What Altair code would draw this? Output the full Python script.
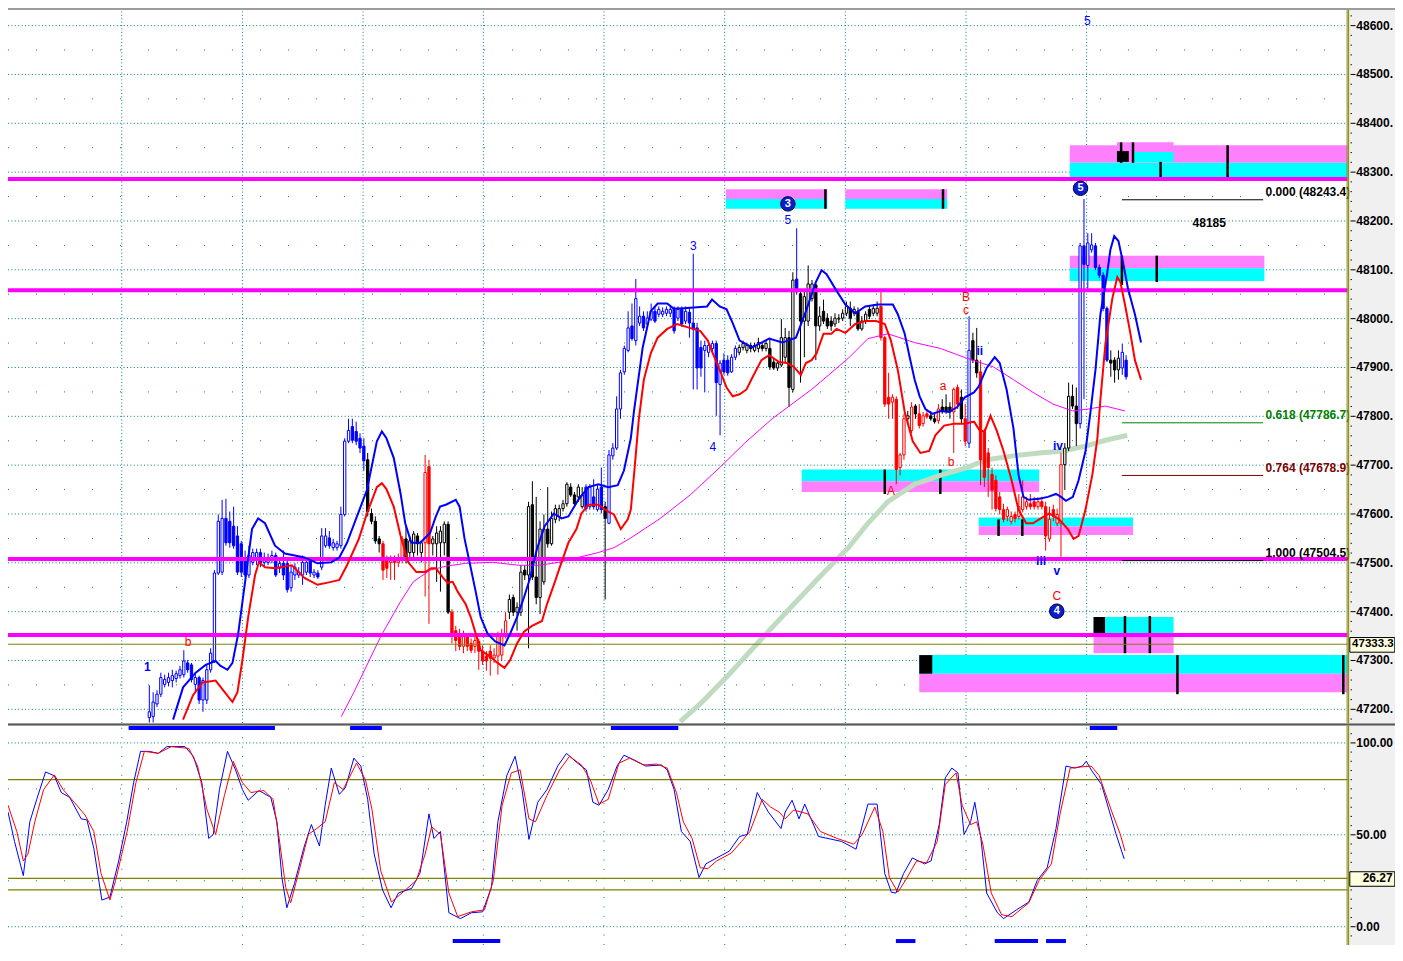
import altair as alt
import pandas as pd

# ----------------------------------------------------------------- candles
candle_open = [
    47183, 47185, 47211, 47231, 47251, 47255, 47259, 47263, 47269, 47271,
    47295, 47291, 47251, 47265, 47219, 47219, 47281, 47299, 47479, 47481,
    47591, 47585, 47575, 47555, 47539, 47511, 47475, 47501, 47505, 47521,
    47501, 47501, 47509, 47515, 47489, 47499, 47499, 47449, 47475, 47475,
    47475, 47481, 47505, 47475, 47479, 47491, 47535, 47551, 47531, 47531,
    47535, 47599, 47749, 47779, 47769, 47755, 47739, 47711, 47601, 47585,
    47549, 47539, 47505, 47501, 47509, 47501, 47505, 47549, 47521, 47521,
    47555, 47521, 47541, 47697, 47539, 47539, 47541, 47541, 47579, 47399,
    47361, 47355, 47329, 47349, 47335, 47329, 47339, 47319, 47309, 47319,
    47305, 47309, 47311, 47355, 47399, 47429, 47399, 47399, 47485, 47475,
    47619, 47471, 47429, 47461, 47569, 47539, 47589, 47595, 47611, 47621,
    47655, 47639, 47635, 47615, 47655, 47615, 47635,
    47609, 47655, 47615, 47581, 47719, 47735, 47815, 47891, 47935, 47985,
    47955, 47991, 48005, 47989, 47999, 48015, 48009, 48009, 48011, 48011,
    48019, 48001, 48019, 47995, 48013, 47991, 47981, 47941, 47935, 47931,
    47939, 47949, 47865, 47915, 47915, 47891, 47921, 47931, 47941, 47935,
    47945, 47935, 47939, 47945, 47939, 47939, 47911, 47899, 47905, 47921,
    47961, 47855, 48081, 48051, 47995, 47995, 48041, 48069, 47985, 48015,
    48001, 47995, 47989, 47999, 48001, 48011, 48021, 48011, 48015, 47979,
    47995, 48019, 48011, 48011, 48025, 47961, 47839, 47829, 47835, 47695,
    47721, 47795, 47771, 47821, 47805, 47785, 47805, 47801, 47795, 47791,
    47819, 47819, 47819, 47809, 47859, 47839, 47795, 47745, 47955, 47915,
    47891, 47769, 47725, 47681, 47669, 47635, 47609, 47595, 47585, 47599,
    47595, 47609, 47615, 47621, 47625, 47615, 47625, 47615, 47549, 47609,
    47581, 47581, 47701, 47735, 47841, 47821, 47785, 48149, 48109, 48141,
    48149, 48105, 48089, 48021, 47915, 47915, 47895, 47899, 47915,
]
candle_high = [
    47249, 47235, 47239, 47275, 47271, 47275, 47281, 47279, 47289, 47321,
    47301, 47295, 47275, 47269, 47265, 47291, 47325, 47485, 47599, 47629,
    47631, 47605, 47615, 47575, 47545, 47525, 47535, 47529, 47529, 47529,
    47521, 47519, 47525, 47521, 47511, 47525, 47511, 47495, 47499, 47491,
    47515, 47505, 47511, 47487, 47485, 47571, 47571, 47565, 47549, 47545,
    47615, 47755, 47795, 47795, 47789, 47765, 47755, 47725, 47611, 47595,
    47555, 47545, 47515, 47515, 47515, 47519, 47555, 47575, 47555, 47565,
    47561, 47545, 47721, 47711, 47555, 47575, 47575, 47585, 47585, 47405,
    47371, 47365, 47361, 47355, 47345, 47355, 47345, 47331, 47319, 47331,
    47325, 47359, 47365, 47399, 47435, 47435, 47419, 47495, 47495, 47625,
    47667, 47635, 47585, 47599, 47655, 47605, 47619, 47619, 47629, 47665,
    47663, 47645, 47661, 47655, 47661, 47661, 47671,
    47659, 47695, 47625, 47731, 47745, 47841, 47895, 47945, 48015, 48031,
    48081, 48025, 48015, 48015, 48031, 48025, 48025, 48023, 48025, 48025,
    48025, 48025, 48025, 48025, 48023, 48133, 47991, 47955, 47955, 47955,
    47955, 47955, 47915, 47929, 47925, 47927, 47945, 47947, 47955, 47951,
    47951, 47951, 47961, 47951, 47955, 47961, 47919, 47915, 47999, 47981,
    47975, 48095, 48185, 48059, 48055, 48109, 48079, 48075, 48025, 48039,
    48011, 48005, 48011, 48009, 48019, 48035, 48035, 48025, 48023, 48005,
    48015, 48025, 48029, 48035, 48061, 47965, 47889, 47845, 47841, 47725,
    47805, 47811, 47829, 47825, 47825, 47809, 47811, 47811, 47805, 47825,
    47835, 47845, 47829, 47859, 47865, 47855, 47825, 48005, 47971, 47981,
    47915, 47775, 47735, 47695, 47679, 47645, 47621, 47615, 47605, 47605,
    47641, 47669, 47635, 47641, 47635, 47635, 47635, 47625, 47615, 47619,
    47611, 47725, 47745, 47869, 47865, 47859, 48155, 48245, 48175, 48175,
    48155, 48111, 48095, 48025, 47935, 47921, 47935, 47949, 47925,
]
candle_low = [
    47173, 47173, 47205, 47225, 47245, 47247, 47245, 47255, 47263, 47265,
    47275, 47255, 47235, 47211, 47195, 47211, 47275, 47295, 47475, 47475,
    47535, 47531, 47529, 47475, 47471, 47471, 47469, 47495, 47495, 47491,
    47491, 47495, 47499, 47471, 47479, 47465, 47439, 47441, 47465, 47469,
    47455, 47475, 47471, 47469, 47467, 47485, 47531, 47529, 47525, 47525,
    47529, 47595, 47745, 47745, 47741, 47725, 47689, 47595, 47579, 47539,
    47521, 47465, 47469, 47465, 47465, 47491, 47499, 47499, 47505, 47505,
    47515, 47501, 47431, 47375, 47515, 47461, 47441, 47515, 47395, 47335,
    47319, 47321, 47315, 47319, 47315, 47315, 47281, 47291, 47279, 47269,
    47295, 47271, 47299, 47345, 47385, 47391, 47361, 47391, 47465, 47325,
    47465, 47415, 47395, 47455, 47531, 47535, 47581, 47585, 47605, 47615,
    47635, 47615, 47625, 47611, 47605, 47609, 47609,
    47605, 47601, 47425, 47579, 47711, 47731, 47795, 47885, 47931, 47955,
    47945, 47985, 47975, 47981, 47995, 47991, 48003, 48003, 48005, 48003,
    47969, 47995, 47983, 47989, 47961, 47855, 47855, 47881, 47849, 47921,
    47931, 47801, 47761, 47885, 47883, 47889, 47915, 47925, 47935, 47929,
    47931, 47931, 47931, 47933, 47933, 47895, 47895, 47893, 47901, 47911,
    47819, 47849, 48049, 47869, 47921, 47985, 48035, 47915, 47975, 47989,
    47979, 47975, 47983, 47991, 47995, 48005, 47985, 48005, 47975, 47975,
    47989, 47999, 48005, 48005, 47955, 47819, 47795, 47795, 47661, 47679,
    47711, 47785, 47765, 47795, 47775, 47779, 47795, 47791, 47785, 47785,
    47805, 47805, 47795, 47725, 47815, 47785, 47739, 47735, 47909, 47879,
    47659, 47655, 47635, 47609, 47605, 47599, 47583, 47585, 47579, 47583,
    47589, 47603, 47609, 47609, 47609, 47609, 47609, 47525, 47543, 47585,
    47575, 47505, 47649, 47729, 47815, 47739, 47775, 47835, 48055, 48135,
    48099, 48083, 48015, 47911, 47881, 47869, 47875, 47885, 47875,
]
candle_close = [
    47195, 47215, 47231, 47265, 47261, 47265, 47269, 47273, 47281, 47299,
    47281, 47261, 47265, 47219, 47259, 47281, 47315, 47479, 47585, 47591,
    47541, 47541, 47535, 47481, 47481, 47475, 47515, 47521, 47521, 47499,
    47511, 47511, 47515, 47475, 47499, 47475, 47445, 47481, 47491, 47481,
    47501, 47501, 47479, 47481, 47471, 47555, 47555, 47535, 47541, 47539,
    47599, 47749, 47771, 47751, 47749, 47735, 47709, 47605, 47585, 47545,
    47539, 47485, 47489, 47511, 47501, 47511, 47549, 47505, 47545, 47559,
    47539, 47541, 47685, 47539, 47549, 47561, 47565, 47579, 47399, 47355,
    47341, 47329, 47349, 47329, 47321, 47341, 47319, 47299, 47299, 47305,
    47311, 47349, 47355, 47381, 47425, 47399, 47409, 47481, 47475, 47615,
    47471, 47429, 47569, 47569, 47539, 47591, 47611, 47611, 47621, 47661,
    47639, 47621, 47655, 47639, 47611, 47655, 47615,
    47651, 47609, 47591, 47721, 47735, 47815, 47889, 47939, 47981, 47959,
    48041, 48005, 47981, 48001, 48015, 47995, 48019, 48015, 48019, 48019,
    47975, 48019, 47989, 48015, 47991, 47979, 47899, 47899, 47945, 47945,
    47949, 47869, 47909, 47891, 47889, 47921, 47939, 47941, 47949, 47945,
    47939, 47945, 47951, 47939, 47949, 47901, 47899, 47909, 47961, 47961,
    47859, 48079, 48055, 47995, 48045, 48071, 48071, 47985, 48005, 47995,
    47985, 47985, 48001, 48001, 48011, 48025, 48001, 48019, 47979, 47995,
    48009, 48005, 48021, 48021, 47961, 47825, 47825, 47839, 47691, 47721,
    47795, 47801, 47819, 47805, 47781, 47801, 47799, 47795, 47789, 47815,
    47811, 47811, 47809, 47855, 47825, 47795, 47749, 47935, 47915, 47889,
    47711, 47675, 47695, 47649, 47611, 47609, 47589, 47609, 47595, 47591,
    47615, 47635, 47625, 47615, 47615, 47625, 47615, 47555, 47589, 47595,
    47599, 47701, 47735, 47841, 47821, 47785, 48149, 48111, 48155, 48151,
    48105, 48089, 48021, 47915, 47909, 47895, 47919, 47931, 47881,
]
# candle colour runs: b = blue, k = black, r = red
candle_colour_runs = [
    ("b", 57), ("k", 4), ("r", 6), ("k", 5), ("r", 2), ("k", 5), ("r", 15),
    ("k", 20), ("b", 5), ("k", 1), ("b", 34), ("k", 15), ("b", 1), ("k", 21),
    ("r", 7), ("k", 1), ("r", 1), ("k", 1), ("r", 3), ("k", 2), ("r", 1),
    ("k", 3), ("r", 2), ("k", 1), ("r", 1), ("b", 1), ("k", 2), ("r", 22),
    ("k", 4), ("b", 8), ("k", 3), ("b", 2),
]

# ----------------------------------------------------------- price overlays
upper_band_bar = [
    6.2, 8.8, 12.1, 14.7, 17.3, 18.6, 20.4, 21.7, 23.2, 25.0,
    26.8, 28.4, 30.2, 32.8, 35.4, 40.5, 43.9, 47.5, 49.6, 51.6,
    54.2, 56.8, 59.4, 60.7, 61.9, 63.8, 65.6, 66.8, 68.4, 70.7,
    73.3, 74.8, 75.9, 77.4, 80.0, 81.0, 82.3, 83.6, 85.2, 86.5,
    88.3, 90.3, 92.7, 94.2, 96.0, 97.8, 99.4, 101.2, 103.2, 105.6,
    107.6, 109.4, 112.0, 114.6, 117.2, 119.8, 122.3, 123.9, 125.7, 126.5,
    128.8, 130.9, 132.7, 135.2, 136.8, 138.6, 145.6, 146.9, 148.9, 150.7,
    152.3, 154.1, 157.4, 161.8, 165.2, 168.8, 171.4, 174.0, 175.5, 176.8,
    179.1, 181.7, 184.3, 186.9, 190.2, 194.1, 195.4, 197.2, 198.5, 199.8,
    201.1, 202.6, 204.4, 206.5, 208.8, 210.9, 212.9, 215.3, 216.5, 218.6,
    220.7, 222.0, 223.8, 225.6, 226.9, 228.2, 229.5, 232.3, 234.6, 236.7,
    238.0, 239.3, 241.1, 242.6, 244.4, 245.7, 247.0, 248.3, 250.1, 250.9,
    251.9, 253.0, 254.2, 255.5, 257.3, 258.9,
]
upper_band_price = [
    47179, 47245, 47275, 47291, 47299, 47289, 47281, 47295, 47355, 47461,
    47569, 47591, 47581, 47535, 47519, 47511, 47499, 47501, 47511, 47541,
    47595, 47649, 47749, 47769, 47755, 47715, 47641, 47581, 47541, 47541,
    47561, 47595, 47615, 47619, 47629, 47615, 47549, 47501, 47441, 47389,
    47355, 47339, 47331, 47355, 47389, 47429, 47469, 47529, 47575, 47601,
    47591, 47595, 47629, 47655, 47661, 47655, 47659, 47689, 47755, 47809,
    47941, 48015, 48031, 48031, 48021, 48021, 48025, 48039, 48025, 48019,
    47991, 47955, 47941, 47959, 47951, 47961, 48015, 48075, 48099, 48091,
    48061, 48029, 48011, 48025, 48029, 48029, 48009, 47969, 47921, 47875,
    47841, 47815, 47805, 47811, 47809, 47819, 47839, 47849, 47861, 47899,
    47921, 47909, 47855, 47775, 47681, 47635, 47629, 47631, 47635, 47641,
    47635, 47627, 47635, 47669, 47729, 47809, 47895, 48009, 48095, 48141,
    48169, 48159, 48115, 48061, 48009, 47951,
]
lower_band_bar = [
    8.8, 11.4, 13.9, 17.3, 19.1, 21.7, 23.0, 24.3, 25.8, 27.6,
    28.6, 30.2, 32.8, 37.2, 40.5, 43.9, 47.5, 49.6, 51.6, 54.7,
    56.8, 59.4, 60.7, 61.9, 63.8, 65.6, 67.6, 69.7, 72.0, 73.6,
    74.8, 76.7, 77.9, 79.2, 80.5, 82.6, 83.9, 85.2, 86.5, 88.8,
    90.9, 92.7, 94.2, 96.0, 97.8, 99.9, 102.5, 103.8, 105.6, 107.6,
    109.4, 111.5, 112.8, 114.6, 117.2, 119.8, 121.3, 123.1, 124.9, 125.7,
    126.7, 127.8, 129.1, 130.9, 132.7, 135.2, 137.8, 141.9, 143.8, 145.8,
    147.1, 148.9, 150.7, 152.3, 154.1, 155.9, 157.4, 159.8, 161.8, 164.4,
    166.5, 168.3, 170.1, 171.4, 172.9, 174.2, 176.0, 178.1, 179.4, 181.7,
    184.3, 186.9, 189.7, 192.0, 193.6, 195.4, 197.2, 199.3, 201.3, 203.6,
    205.2, 207.5, 210.1, 212.7, 215.3, 216.8, 218.1, 219.6, 221.2, 223.0,
    225.1, 226.9, 228.9, 230.7, 232.3, 234.9, 237.5, 239.8, 241.3, 242.6,
    244.4, 246.2, 247.5, 248.3, 249.6, 251.4, 252.7, 253.5, 254.7, 256.0,
    257.3, 258.9,
]
lower_band_price = [
    47179, 47229, 47255, 47259, 47241, 47215, 47235, 47301, 47389, 47475,
    47501, 47491, 47489, 47495, 47469, 47455, 47461, 47465, 47495, 47549,
    47601, 47655, 47663, 47651, 47615, 47555, 47501, 47481, 47481, 47489,
    47489, 47469, 47459, 47461, 47441, 47415, 47389, 47355, 47321, 47309,
    47295, 47285, 47301, 47335, 47359, 47371, 47381, 47415, 47455, 47501,
    47541, 47569, 47601, 47619, 47619, 47605, 47599, 47569, 47589, 47609,
    47695, 47795, 47875, 47929, 47961, 47979, 47989, 47979, 47975, 47955,
    47929, 47895, 47859, 47841, 47845, 47855, 47879, 47915, 47925, 47911,
    47909, 47901, 47885, 47909, 47915, 47929, 47969, 47969, 47979, 47971,
    47989, 47995, 47995, 47989, 47955, 47895, 47809, 47749, 47725, 47729,
    47761, 47781, 47785, 47785, 47789, 47771, 47769, 47801, 47771, 47729,
    47669, 47609, 47581, 47581, 47589, 47601, 47589, 47569, 47549, 47555,
    47609, 47681, 47755, 47835, 47949, 48041, 48085, 48075, 48029, 47975,
    47915, 47875,
]
fast_ma_bar = [
    50.1, 53.4, 60.4, 65.6, 68.9, 73.3, 77.4, 82.6, 89.6, 96.5,
    101.7, 106.9, 112.0, 117.2, 121.3, 125.7, 133.4, 141.2, 148.9, 155.4,
    162.6, 172.9, 182.5, 187.6, 192.8, 199.8, 206.5, 213.4, 220.4, 225.6,
    230.7, 235.9, 241.1, 245.2, 249.6, 254.7,
]
fast_ma_price = [
    47185, 47235, 47349, 47421, 47461, 47485, 47493, 47499, 47501, 47495,
    47495, 47501, 47511, 47521, 47531, 47551, 47591, 47639, 47695, 47745,
    47795, 47855, 47919, 47959, 47969, 47951, 47939, 47919, 47901, 47875,
    47849, 47825, 47811, 47815, 47821, 47811,
]
slow_ma_bar = [138.6, 143.8, 151.5, 159.2, 167.0, 174.7, 182.5, 187.6, 192.8, 199.8,
               206.5, 213.4, 218.6, 225.6, 232.3, 238.5, 244.4, 249.6, 255.3]
slow_ma_price = [47175, 47211, 47273, 47339, 47405, 47469, 47531, 47581, 47625, 47661,
                 47679, 47695, 47711, 47719, 47725, 47729, 47739, 47751, 47761]

# horizontal support / resistance lines and the last price
level_prices = [48286, 48058, 47508, 47352]
last_price = 47333.3

# Fibonacci retracement
fib_ratio = ["0.000", "0.618", "0.764", "1.000"]
fib_price = [48243.4, 47786.7, 47678.9, 47504.5]
fib_colour = ["#000000", "#008000", "#800000", "#000000"]
fib_start, fib_end, fib_text_bar = 253.9, 290.8, 291.4
note_text, note_bar, note_price = "48185", 276.7, 48195

# supply / demand zones
zone_x0 = [240.3, 240.3, 252.6, 256.8, 150.5, 150.5, 181.7, 181.7, 240.3, 240.3,
           170.3, 170.3, 216.5, 216.5, 246.5, 246.5, 201.0, 201.0]
zone_x1 = [312.8, 312.8, 267.4, 267.4, 177.0, 177.0, 208.3, 208.3, 291.1, 291.1,
           232.3, 232.3, 256.8, 256.8, 267.4, 267.4, 312.8, 312.8]
zone_lo = [48319, 48289, 48341, 48321, 48245, 48225, 48245, 48225, 48103, 48077,
           47667, 47645, 47575, 47557, 47353, 47315, 47273, 47235]
zone_hi = [48355, 48319, 48361, 48341, 48265, 48245, 48265, 48245, 48129, 48103,
           47691, 47667, 47593, 47575, 47389, 47353, 47311, 47273]
zone_kind = ["pink", "cyan", "pink", "cyan", "pink", "cyan", "pink", "cyan", "pink", "cyan",
             "cyan", "pink", "cyan", "pink", "cyan", "pink", "cyan", "pink"]
block_x0 = [252.6, 246.5, 201.0]
block_x1 = [255.7, 249.5, 204.4]
block_lo = [48321, 47353, 47273]
block_hi = [48343, 47389, 47311]
marker_bar = [253.7, 256.8, 264.0, 281.5, 176.5, 207.2, 253.9, 263.0,
              192.0, 206.5, 221.7, 227.9, 254.7, 261.2, 268.4, 311.7]
marker_lo = [48319, 48319, 48289, 48289, 48225, 48225, 48069, 48075,
             47641, 47641, 47555, 47555, 47315, 47315, 47231, 47231]
marker_hi = [48361, 48361, 48321, 48355, 48265, 48265, 48129, 48129,
             47691, 47691, 47589, 47589, 47391, 47391, 47311, 47311]

# wave labels
wave_text = ["1", "b", "3", "4", "5", "5", "B", "c", "a", "b", "A", "ii", "iii", "iv", "v", "C"]
wave_bar = [-0.5, 10.1, 142.0, 147.1, 166.7, 244.9, 213.2, 213.2, 207.2, 209.3, 193.6,
            216.8, 232.8, 237.2, 236.9, 236.9]
wave_price = [47287, 47337, 48149, 47737, 48201, 48609, 48045, 48017, 47863, 47707, 47647,
              47933, 47503, 47739, 47483, 47433]
wave_colour = ["b", "r", "b", "b", "b", "b", "r", "r", "r", "r", "r", "b", "b", "b", "b", "r"]
wave_bold = [True, False, False, False, False, False, False, False, False, False, False,
             True, True, True, True, False]
circle_text = ["3", "5", "4"]
circle_bar = [166.7, 243.1, 236.9]
circle_price = [48235, 48267, 47401]

# ------------------------------------------------------------- stochastics
stoch_k_bar = [
    -36.9, -35.2, -32.9, -31.2, -29.4, -27.1, -24.8, -23.0, -20.8, -17.8,
    -16.3, -14.5, -12.4, -10.3, -8.0, -5.9, -4.1, -2.3, 0.0, 2.3,
    4.6, 9.3, 11.5, 13.7, 15.5, 16.7, 18.3, 20.4, 22.5, 24.3,
    25.8, 28.6, 31.7, 33.3, 34.6, 35.9, 37.9, 40.3, 42.3, 44.4,
    45.9, 47.5, 49.6, 51.2, 53.4, 55.2, 57.0, 58.7, 60.9, 63.1,
    65.0, 68.5, 70.7, 73.0, 74.3, 76.0, 78.2, 81.2, 84.1, 87.0,
    89.3, 91.0, 93.3, 95.5, 97.3, 99.1, 101.4, 103.8, 106.6, 108.9,
    111.8, 114.1, 115.8, 117.4, 119.8, 122.1, 123.9, 126.7, 129.6, 133.7,
    135.2, 137.0, 138.9, 141.2, 143.5, 145.3, 148.1, 151.4, 154.1, 156.1,
    158.7, 161.6, 164.9, 166.0, 167.8, 169.6, 171.1, 174.7, 180.7, 184.5,
    187.6, 190.0, 192.0, 193.7, 194.9, 196.9, 199.2, 202.4, 204.1, 206.2,
    207.8, 209.5, 211.1, 212.7, 214.4, 215.5, 217.1, 218.6, 221.4, 223.0,
    226.4, 229.6, 231.8, 234.4, 236.7, 239.3, 241.6, 243.6, 244.6, 245.9,
    248.6, 252.4, 254.5,
]
stoch_k = [
    62.4, 46.4, 27.8, 57.1, 69.3, 84.2, 82.1, 73.0, 70.4, 58.7,
    58.1, 42.7, 14.5, 16.1, 35.8, 57.1, 78.4, 95.4, 95.4, 94.3,
    98.0, 98.0, 92.7, 78.4, 48.0, 50.2, 74.6, 95.4, 85.3, 74.6,
    68.8, 74.1, 70.4, 57.1, 26.8, 10.3, 23.6, 42.7, 55.6, 43.9,
    66.1, 86.3, 72.0, 75.7, 91.7, 87.4, 69.3, 39.5, 19.9, 10.3,
    18.3, 20.9, 29.4, 61.4, 48.0, 51.8, 7.6, 4.4, 7.6, 8.1,
    21.4, 57.1, 82.1, 92.7, 74.6, 47.5, 67.7, 74.6, 87.4, 94.3,
    89.0, 85.3, 67.7, 66.1, 74.6, 87.4, 93.3, 90.6, 87.4, 88.0,
    85.3, 74.6, 51.8, 46.4, 26.8, 34.2, 37.4, 41.1, 49.1, 50.2,
    73.0, 62.4, 53.4, 62.4, 68.8, 58.7, 66.7, 49.1, 46.4, 42.2,
    66.7, 66.7, 28.9, 18.8, 18.3, 28.9, 37.4, 34.2, 35.8, 55.5,
    81.0, 86.3, 83.7, 50.2, 57.1, 67.7, 48.0, 18.3, 7.6, 4.4,
    9.2, 13.4, 25.2, 32.1, 53.4, 87.4, 86.3, 87.4, 90.1, 85.3,
    77.3, 50.2, 36.9,
]
stoch_d_bar = [
    -36.9, -34.6, -32.9, -31.7, -29.9, -27.6, -24.8, -22.5, -19.6, -16.8,
    -14.5, -12.6, -10.3, -8.8, -5.8, -3.5, -1.3, 2.3, 5.7, 10.3,
    12.6, 15.0, 17.3, 19.6, 21.9, 24.3, 26.5, 29.9, 32.3, 33.9,
    35.6, 36.9, 39.1, 41.5, 43.7, 45.9, 48.3, 50.6, 54.1, 56.4,
    58.1, 60.4, 63.2, 66.8, 69.7, 72.0, 73.7, 76.0, 78.2, 80.5,
    84.1, 87.5, 89.8, 92.1, 94.5, 96.8, 99.1, 100.8, 103.8, 107.1,
    109.7, 112.8, 115.1, 117.4, 119.8, 122.6, 125.4, 129.0, 132.4, 135.2,
    137.6, 139.4, 141.7, 143.8, 145.8, 148.1, 151.9, 154.6, 156.8, 160.0,
    162.2, 164.4, 166.0, 168.2, 171.9, 175.2, 179.6, 183.9, 186.1, 189.4,
    191.5, 193.2, 195.4, 197.4, 200.3, 202.9, 205.7, 207.8, 210.6, 212.2,
    214.4, 216.0, 217.6, 219.8, 222.5, 225.2, 229.6, 232.3, 235.5, 237.7,
    240.4, 243.1, 245.9, 248.0, 251.3, 253.5, 254.7,
]
stoch_d = [
    66.1, 51.8, 35.8, 39.5, 57.1, 74.6, 82.6, 74.6, 67.7, 60.8,
    51.8, 28.9, 14.5, 25.2, 51.8, 78.4, 95.4, 94.3, 98.0, 97.0,
    87.4, 64.0, 50.2, 71.4, 90.0, 78.4, 73.0, 74.1, 69.3, 48.0,
    21.4, 13.0, 30.5, 50.2, 53.4, 57.1, 78.4, 74.6, 89.0, 80.0,
    64.0, 30.5, 13.4, 19.9, 25.2, 39.5, 54.4, 50.2, 18.3, 5.5,
    8.1, 9.2, 25.2, 66.1, 83.7, 85.3, 58.7, 57.1, 71.4, 85.3,
    92.7, 88.0, 80.0, 66.7, 69.3, 89.0, 91.7, 88.0, 88.5, 86.3,
    73.0, 57.1, 48.0, 32.1, 31.6, 35.8, 40.0, 46.4, 51.8, 69.3,
    65.1, 62.4, 58.7, 63.5, 61.4, 51.8, 48.0, 44.9, 50.2, 65.1,
    51.8, 26.8, 18.8, 25.2, 35.8, 34.7, 46.4, 77.4, 83.7, 66.1,
    55.5, 57.1, 44.9, 18.3, 6.5, 5.5, 13.0, 25.2, 34.2, 60.8,
    86.3, 86.9, 87.4, 82.1, 62.4, 50.2, 41.2,
]
stoch_levels = [80, 20]
last_stoch = 26.27
signal_top_x0 = [-5.4, 52.4, 120.5, 245.5]
signal_top_x1 = [32.8, 60.7, 138.1, 252.7]
signal_bot_x0 = [79.2, 194.9, 220.7, 234.1]
signal_bot_x1 = [91.6, 200.0, 232.0, 239.3]

# axis ticks (labels as they appear in the narrow price strip)
price_ticks = [47200, 47300, 47400, 47500, 47600, 47700, 47800, 47900,
               48000, 48100, 48200, 48300, 48400, 48500, 48600]
price_tick_labels = ["47200.", "47300.", "47400.", "47500.", "47600.", "47700.", "47800.",
                     "47900.", "48000.", "48100.", "48200.", "48300.", "48400.", "48500.",
                     "48600."]
stoch_ticks = [0, 50, 100]
stoch_tick_labels = ["0.00", "50.00", "100.00"]
time_grid_bars = [-7.2, 24.3, 55.8, 87.2, 118.7, 150.2, 181.7, 213.2, 244.7]

# ================================================================ styling
FONT = "Liberation Sans"
COL = {"b": "#0000ff", "k": "#000000", "r": "#ff0000"}
ZONE_FILL = {"pink": "#ff80ff", "cyan": "#00ffff"}
TEAL, OLIVE, MAGENTA = "#008080", "#808000", "#ff00ff"

X_MIN, X_MAX = -36.9, 325.2
PLOT_END = 312.8
STRIP_X = 313.25
P_MIN, P_MAX = 47172.0, 48632.0
S_MIN, S_MAX = -9.95, 109.2
W, H_TOP, GAP, H_BOT = 1387, 713, 3, 219
H_ALL = H_TOP + GAP + H_BOT

xs = alt.Scale(domain=[X_MIN, X_MAX], nice=False, zero=False)
ys_p = alt.Scale(domain=[P_MIN, P_MAX], range=[H_TOP, 0], nice=False, zero=False)
ys_s = alt.Scale(domain=[S_MIN, S_MAX], range=[H_ALL, H_TOP + GAP], nice=False, zero=False)


def ex(f):
    return alt.X(f"{f}:Q", scale=xs, axis=None)


def ey(f, s):
    return alt.Y(f"{f}:Q", scale=s, axis=None)


def hrules(values, ys, x0, x1, **mk):
    df = pd.DataFrame({"y": list(values)})
    df["x0"] = x0
    df["x1"] = x1
    return alt.Chart(df).mark_rule(**mk).encode(x=ex("x0"), x2="x1", y=ey("y", ys))


def vrules(values, ys, y0, y1, **mk):
    df = pd.DataFrame({"x": list(values)})
    df["y0"] = y0
    df["y1"] = y1
    return alt.Chart(df).mark_rule(**mk).encode(x=ex("x"), y=ey("y0", ys), y2="y1")


def rects(x0, x1, y0, y1, ys, colours, **mk):
    n = min(len(x0), len(x1), len(y0), len(y1), len(colours))
    df = pd.DataFrame({"x0": x0[:n], "x1": x1[:n], "y0": y0[:n], "y1": y1[:n], "c": colours[:n]})
    return alt.Chart(df).mark_rect(**mk).encode(
        x=ex("x0"), x2="x1", y=ey("y0", ys), y2="y1", color=alt.Color("c:N", scale=None))


def line(bars, vals, ys, **mk):
    pairs = list(zip(bars, vals))
    df = pd.DataFrame(pairs, columns=["bar", "v"])
    return alt.Chart(df).mark_line(**mk).encode(x=ex("bar"), y=ey("v", ys))


def texts(bars, vals, labels, colours, ys, **mk):
    n = min(len(bars), len(vals), len(labels), len(colours))
    df = pd.DataFrame({"bar": bars[:n], "v": vals[:n], "t": labels[:n], "c": colours[:n]})
    return alt.Chart(df).mark_text(font=FONT, **mk).encode(
        x=ex("bar"), y=ey("v", ys), text="t:N", color=alt.Color("c:N", scale=None))


# ---------------------------------------------------------- candle table
n = min(len(candle_open), len(candle_high), len(candle_low), len(candle_close))
codes = [c for c, k in candle_colour_runs for _ in range(k)]
codes = (codes + ["b"] * n)[:n]
cdf = pd.DataFrame({"bar": list(range(n)), "o": candle_open[:n], "h": candle_high[:n],
                    "l": candle_low[:n], "c": candle_close[:n]})
cdf["hi"] = cdf[["h", "o", "c"]].max(axis=1)
cdf["lo"] = cdf[["l", "o", "c"]].min(axis=1)
cdf["col"] = [COL[c] for c in codes]
cdf["fill"] = [("#ffffff" if cl >= op else col) for op, cl, col in zip(cdf["o"], cdf["c"], cdf["col"])]
cdf["x0"] = cdf["bar"] - 0.3
cdf["x1"] = cdf["bar"] + 0.3

wicks = alt.Chart(cdf).mark_rule(strokeWidth=1).encode(
    x=ex("bar"), y=ey("lo", ys_p), y2="hi", color=alt.Color("col:N", scale=None))
bodies = alt.Chart(cdf).mark_rect(strokeWidth=1).encode(
    x=ex("x0"), x2="x1", y=ey("o", ys_p), y2="c",
    fill=alt.Fill("fill:N", scale=None), stroke=alt.Stroke("col:N", scale=None))

# ----------------------------------------------------------- top panel
mid_ticks = [p + 50 for p in price_ticks[:-1]]
layers = [
    hrules(price_ticks, ys_p, X_MIN, PLOT_END, color=TEAL, strokeWidth=1, strokeDash=[1, 2.4]),
    hrules(mid_ticks, ys_p, X_MIN, PLOT_END, color=TEAL, strokeWidth=1, strokeDash=[1, 27]),
    vrules(time_grid_bars, ys_p, P_MIN, P_MAX, color=TEAL, strokeWidth=1, strokeDash=[1, 2.4]),
    rects(zone_x0, zone_x1, zone_lo, zone_hi, ys_p, [ZONE_FILL[k] for k in zone_kind]),
    rects(block_x0, block_x1, block_lo, block_hi, ys_p, ["#000000"] * len(block_x0)),
    alt.Chart(pd.DataFrame({"x": marker_bar, "y0": marker_lo, "y1": marker_hi})).mark_rule(
        color="#000000", strokeWidth=2.5).encode(x=ex("x"), y=ey("y0", ys_p), y2="y1"),
    line(slow_ma_bar, slow_ma_price, ys_p, color="#c0dcc0", strokeWidth=5),
    wicks,
    bodies,
    line(fast_ma_bar, fast_ma_price, ys_p, color=MAGENTA, strokeWidth=1),
    hrules(level_prices, ys_p, X_MIN, PLOT_END, color=MAGENTA, strokeWidth=4),
    hrules([last_price], ys_p, X_MIN, PLOT_END, color=OLIVE, strokeWidth=1),
]
fdf = pd.DataFrame({"y": fib_price, "c": fib_colour,
                    "t": [f"{r} ({p})" for r, p in zip(fib_ratio, fib_price)]})
fdf["x0"] = fib_start
fdf["x1"] = fib_end
fdf["tx"] = fib_text_bar
fdf["ty"] = fdf["y"] + 15
layers += [
    alt.Chart(fdf).mark_rule(strokeWidth=1).encode(
        x=ex("x0"), x2="x1", y=ey("y", ys_p), color=alt.Color("c:N", scale=None)),
    alt.Chart(fdf).mark_text(font=FONT, fontSize=12, fontWeight="bold", align="left",
                             baseline="middle").encode(
        x=ex("tx"), y=ey("ty", ys_p), text="t:N", color=alt.Color("c:N", scale=None)),
    texts([note_bar], [note_price], [note_text], ["#000000"], ys_p,
          fontSize=12, fontWeight="bold", align="center", baseline="middle"),
    line(upper_band_bar, upper_band_price, ys_p, color="#0000ff", strokeWidth=2),
    line(lower_band_bar, lower_band_price, ys_p, color="#ff0000", strokeWidth=2),
]
norm = [i for i, b in enumerate(wave_bold) if not b]
bold = [i for i, b in enumerate(wave_bold) if b]
for idx, weight in ((norm, "normal"), (bold, "bold")):
    layers.append(texts([wave_bar[i] for i in idx], [wave_price[i] for i in idx],
                        [wave_text[i] for i in idx], [COL[wave_colour[i]] for i in idx],
                        ys_p, fontSize=12, fontWeight=weight, align="center",
                        baseline="middle"))
cdf2 = pd.DataFrame({"bar": circle_bar, "v": circle_price, "t": circle_text})
layers += [
    alt.Chart(cdf2).mark_point(shape="circle", filled=True, size=210, fill="#0a1ecf",
                               stroke="#000033", strokeWidth=1, opacity=1).encode(
        x=ex("bar"), y=ey("v", ys_p)),
    alt.Chart(cdf2).mark_text(font=FONT, fontSize=11, fontWeight="bold", color="#ffffff",
                              align="center", baseline="middle").encode(
        x=ex("bar"), y=ey("v", ys_p), text="t:N"),
]

# -------------------------------------------------------- bottom panel
layers += [
    hrules(stoch_ticks, ys_s, X_MIN, PLOT_END, color=TEAL, strokeWidth=1, strokeDash=[1, 2.4]),
    hrules([25, 75], ys_s, X_MIN, PLOT_END, color=TEAL, strokeWidth=1, strokeDash=[1, 27]),
    vrules(time_grid_bars, ys_s, S_MIN, S_MAX, color=TEAL, strokeWidth=1, strokeDash=[1, 8.4]),
    hrules(stoch_levels + [last_stoch], ys_s, X_MIN, PLOT_END, color=OLIVE, strokeWidth=1.2),
    line(stoch_k_bar, stoch_k, ys_s, color="#0000ff", strokeWidth=1),
    line(stoch_d_bar, stoch_d, ys_s, color="#ff0000", strokeWidth=1),
    alt.Chart(pd.DataFrame({"x0": signal_top_x0, "x1": signal_top_x1, "y": 108.1})).mark_rule(
        color="#0000ff", strokeWidth=4).encode(x=ex("x0"), x2="x1", y=ey("y", ys_s)),
    alt.Chart(pd.DataFrame({"x0": signal_bot_x0, "x1": signal_bot_x1, "y": -7.8})).mark_rule(
        color="#0000ff", strokeWidth=4).encode(x=ex("x0"), x2="x1", y=ey("y", ys_s)),
]


# ------------------------------------------------------- right value strips
def strip_layers(ys, y_lo, y_hi, ticks, labels, minor, box_lo, box_hi, box_value, box_text,
                 box_align, box_x, box_size):
    base = pd.DataFrame({"x0": [STRIP_X], "x1": [X_MAX], "y0": [y_lo], "y1": [y_hi]})
    lay = [
        alt.Chart(base).mark_rect(color="#f0f0f0").encode(x=ex("x0"), x2="x1", y=ey("y0", ys), y2="y1"),
        vrules([312.7, 313.1], ys, y_lo, y_hi, color=OLIVE, strokeWidth=1),
        hrules(minor, ys, 313.6, 313.95, color="#000000", strokeWidth=1),
        hrules(ticks, ys, 313.6, 314.9, color="#000000", strokeWidth=1),
    ]
    tdf = pd.DataFrame({"v": ticks, "t": labels})
    tdf["x"] = 315.1
    lay.append(alt.Chart(tdf).mark_text(font=FONT, fontSize=12, fontWeight="bold", align="left",
                                        baseline="middle", color="#000000", clip=True).encode(
        x=ex("x"), y=ey("v", ys), text="t:N"))
    bdf = pd.DataFrame({"x0": [STRIP_X + 0.15], "x1": [X_MAX - 0.05], "y0": [box_lo], "y1": [box_hi],
                        "v": [box_value], "t": [box_text], "tx": [box_x]})
    lay.append(alt.Chart(bdf).mark_rect(fill="#ffffe0", stroke="#000000", strokeWidth=1).encode(
        x=ex("x0"), x2="x1", y=ey("y0", ys), y2="y1"))
    lay.append(alt.Chart(bdf).mark_text(font=FONT, fontSize=box_size, fontWeight="bold",
                                        align=box_align, baseline="middle", color="#000000",
                                        clip=True).encode(
        x=ex("tx"), y=ey("v", ys), text="t:N"))
    return lay


price_minor = [p for p in range(47180, 48632, 20) if p % 100 != 0]
layers += strip_layers(ys_p, P_MIN, P_MAX, price_ticks, price_tick_labels,
                       price_minor, 47317, 47347, last_price, f"{last_price}", "left", 314.0, 11.5)
stoch_minor = [v for v in range(-5, 106, 5) if v % 50 != 0]
layers += strip_layers(ys_s, S_MIN, S_MAX, stoch_ticks, stoch_tick_labels,
                       stoch_minor, 22.0, 29.9, last_stoch, f"{last_stoch}", "right", 324.6, 12)

# separator between the price panel and the oscillator panel
layers.append(alt.Chart(pd.DataFrame({"k": [0]})).mark_rect(color="#9c9c9c").encode(
    x=alt.value(0), x2=alt.value(W), y=alt.value(H_TOP), y2=alt.value(H_TOP + GAP)))
layers.append(alt.Chart(pd.DataFrame({"k": [0]})).mark_rule(color="#5a5a5a", strokeWidth=1).encode(
    x=alt.value(0), x2=alt.value(W), y=alt.value(H_TOP + 1.5)))

chart = alt.layer(*layers).resolve_scale(y="independent").properties(
    width=W, height=H_ALL,
    autosize=alt.AutoSizeParams(type="none"),
    padding={"top": 2, "bottom": 0, "left": 0, "right": 0},
    background="#9c9c9c",
).configure_view(strokeWidth=0, fill="#ffffff")

chart.save("out.html", embed_options={"renderer": "svg", "actions": False})
